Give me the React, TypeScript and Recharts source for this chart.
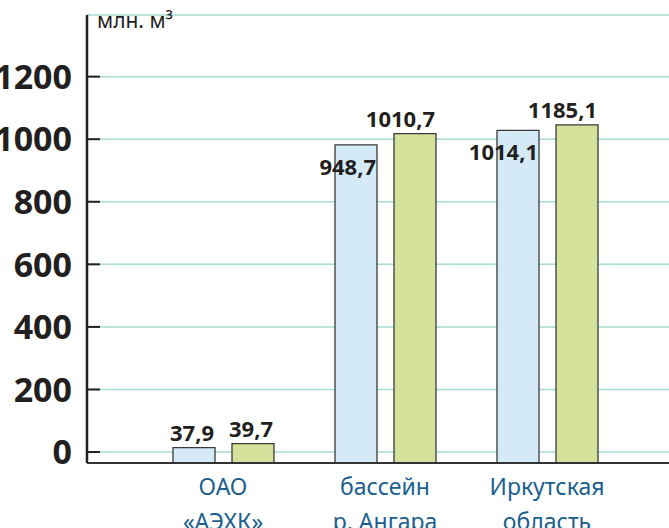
import { Bar, BarChart, CartesianGrid, LabelList, XAxis, YAxis } from "recharts";

const categories = ["ОАО\n«АЭХК»", "бассейн\nр. Ангара", "Иркутская\nобласть"];
// bar heights as they are drawn in the picture
const heightsA = [14, 982, 1028];
const heightsB = [27, 1018, 1046];
// numbers printed over the bars
const labelsA = ["37,9", "948,7", "1014,1"];
const labelsB = ["39,7", "1010,7", "1185,1"];
const yTicks = [0, 200, 400, 600, 800, 1000, 1200];
const unit = "млн. м³";

const FLOOR = -35;
const TOP = 1397;
const FONT = "'Noto Sans', sans-serif";
const INK = "#231f20";

const data = categories.map((name, i) => ({
  name,
  a: heightsA[i],
  b: heightsB[i],
  la: labelsA[i],
  lb: labelsB[i],
}));

const YTick = (props: any) => {
  const { x, y, payload } = props;
  return (
    <g>
      <line x1={x + 15} x2={x + 28} y1={y} y2={y} stroke={INK} strokeWidth={2} />
      <text
        x={x}
        y={y}
        dy="0.36em"
        textAnchor="end"
        fontFamily={FONT}
        fontSize={34}
        fontWeight={700}
        fill={INK}
      >
        {payload.value}
      </text>
    </g>
  );
};

const XTick = (props: any) => {
  const { x, y, payload } = props;
  const lines = String(payload.value).split("\n");
  return (
    <g>
      {lines.map((line, i) => (
        <text
          key={i}
          x={x}
          y={y + 32 + i * 35}
          textAnchor="middle"
          fontFamily={FONT}
          fontSize={23}
          fill="#1b5f8f"
        >
          {line}
        </text>
      ))}
    </g>
  );
};

const barLabel = (insideFrom: number) => (props: any) => {
  const x = Number(props.x);
  const y = Number(props.y);
  const w = Number(props.width);
  const inside = props.index >= insideFrom;
  return (
    <text
      x={x + w - 1}
      y={inside ? y + 30 : y - 7}
      textAnchor="end"
      fontFamily={FONT}
      fontSize={22}
      fontWeight={700}
      fill={INK}
    >
      {props.value}
    </text>
  );
};

const UnitLabel = (props: any) => {
  const vb = props.viewBox || {};
  return (
    <text
      x={vb.x + vb.width + 10}
      y={vb.y + 13}
      fontFamily={FONT}
      fontSize={21}
      fill={INK}
    >
      {unit}
    </text>
  );
};

export default function App() {
  return (
    <div style={{ position: "absolute", left: 0, top: 0 }}>
      <BarChart
        width={669}
        height={528}
        data={data}
        margin={{ top: 15, right: 0, bottom: 0, left: 0 }}
        barSize={42}
        barGap={17}
      >
        <CartesianGrid vertical={false} stroke="#a6dcd4" strokeWidth={1.5} />
        <XAxis
          dataKey="name"
          height={65}
          padding={{ left: 55, right: 41 }}
          tickLine={false}
          tickSize={0}
          tickMargin={0}
          stroke="#333"
          strokeWidth={2}
          tick={<XTick />}
          interval={0}
        />
        <YAxis
          type="number"
          width={87}
          domain={[FLOOR, TOP]}
          ticks={yTicks}
          allowDataOverflow
          tickLine={false}
          tickSize={0}
          tickMargin={15}
          stroke={INK}
          strokeWidth={2.5}
          tick={<YTick />}
          label={<UnitLabel />}
        />
        <Bar
          dataKey={(d: any) => [FLOOR, d.a]}
          fill="#d5eaf7"
          stroke="#3a3a3a"
          strokeWidth={1.3}
          isAnimationActive={false}
        >
          <LabelList dataKey="la" content={barLabel(1)} />
        </Bar>
        <Bar
          dataKey={(d: any) => [FLOOR, d.b]}
          fill="#d4e29b"
          stroke="#3a3a3a"
          strokeWidth={1.3}
          isAnimationActive={false}
        >
          <LabelList dataKey="lb" content={barLabel(99)} />
        </Bar>
      </BarChart>
    </div>
  );
}
